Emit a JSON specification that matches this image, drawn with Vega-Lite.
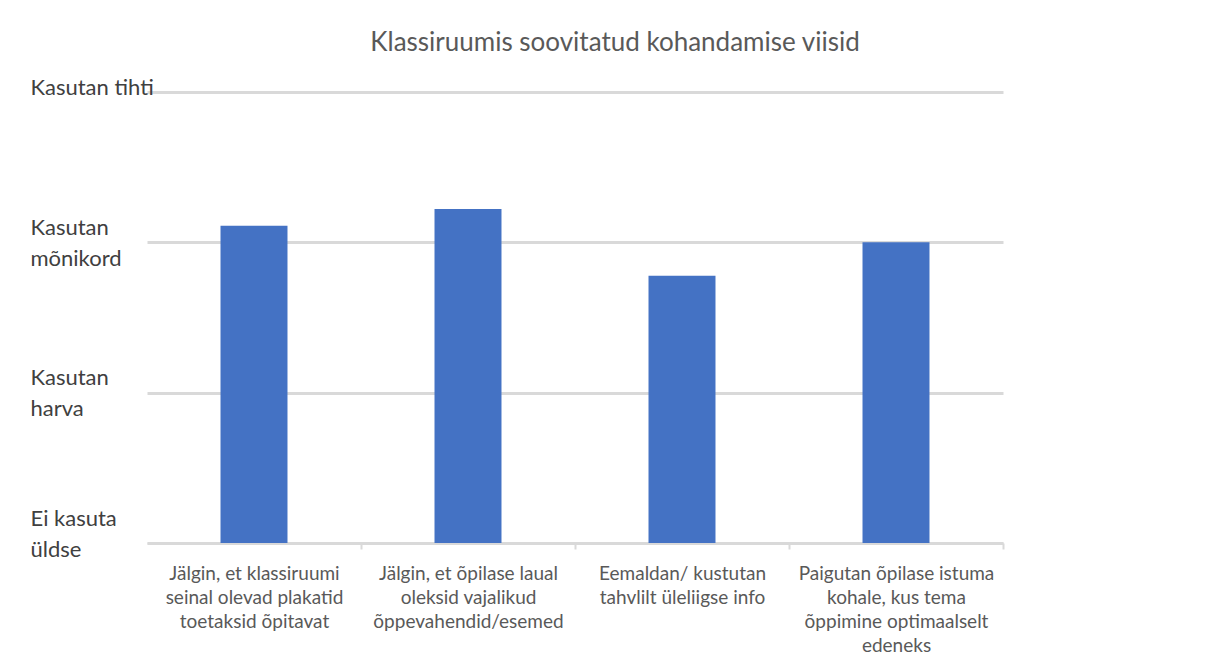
{
  "$schema": "https://vega.github.io/schema/vega-lite/v6.json",
  "autosize": "none",
  "width": 856,
  "height": 451,
  "padding": {"left": 147, "top": 92, "right": 205, "bottom": 126},
  "background": "white",
  "title": {
    "text": "Klassiruumis soovitatud kohandamise viisid",
    "anchor": "middle",
    "dx": 40,
    "offset": 20,
    "fontSize": 26,
    "font": "Lato",
    "fontWeight": "normal",
    "color": "#595959"
  },
  "data": {
    "values": [
      {"viis": "Jälgin, et klassiruumi|seinal olevad plakatid|toetaksid õpitavat", "keskmine": 2.111},
      {"viis": "Jälgin, et õpilase laual|oleksid vajalikud|õppevahendid/esemed", "keskmine": 2.222},
      {"viis": "Eemaldan/ kustutan|tahvlilt üleliigse info", "keskmine": 1.778},
      {"viis": "Paigutan õpilase istuma|kohale, kus tema|õppimine optimaalselt|edeneks", "keskmine": 2.0}
    ]
  },
  "mark": {"type": "bar", "color": "#4472C4"},
  "encoding": {
    "x": {
      "field": "viis",
      "type": "nominal",
      "sort": null,
      "title": null,
      "scale": {"paddingInner": 0.687, "paddingOuter": 0.3435},
      "axis": {
        "labelExpr": "split(datum.value, '|')",
        "labelAngle": 0,
        "labelAlign": "center",
        "labelBaseline": "top",
        "labelFont": "Lato",
        "labelFontSize": 19,
        "labelColor": "#595959",
        "labelLineHeight": 24,
        "labelPadding": 15,
        "labelLimit": 0,
        "labelOffset": -107,
        "domainColor": "#D9D9D9",
        "domainWidth": 2,
        "tickColor": "#D9D9D9",
        "tickWidth": 2,
        "tickSize": 6,
        "tickOffset": 107,
        "grid": false
      }
    },
    "y": {
      "field": "keskmine",
      "type": "quantitative",
      "title": null,
      "scale": {"domain": [0, 3], "nice": false, "zero": true},
      "axis": {
        "values": [0, 1, 2, 3],
        "labelExpr": "datum.value == 3 ? 'Kasutan tihti' : datum.value == 2 ? ['Kasutan', 'mõnikord'] : datum.value == 1 ? ['Kasutan', 'harva'] : ['Ei kasuta', 'üldse']",
        "labelAlign": "left",
        "labelBaseline": "middle",
        "labelFont": "Lato",
        "labelFontSize": 22,
        "labelColor": "#404040",
        "labelLineHeight": 31,
        "labelPadding": 117,
        "labelOffset": {
          "condition": [
            {"test": "datum.value == 3", "value": -5},
            {"test": "datum.value == 0", "value": -25}
          ],
          "value": -15
        },
        "ticks": false,
        "tickSize": 0,
        "domain": false,
        "grid": true,
        "gridColor": "#D9D9D9",
        "gridWidth": 3,
        "labelOverlap": false
      }
    }
  },
  "config": {
    "view": {"stroke": null}
  }
}
